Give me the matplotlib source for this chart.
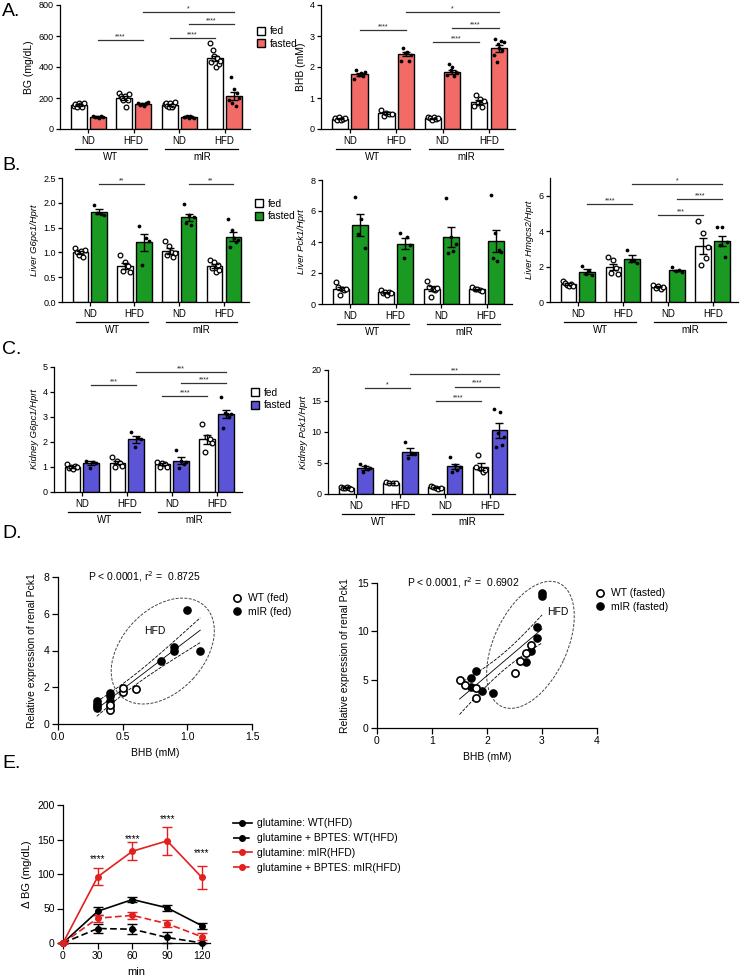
import numpy as np
import matplotlib
matplotlib.use("Agg")
import matplotlib.pyplot as plt
import matplotlib.transforms as mtransforms
from matplotlib.patches import Patch, Ellipse
from matplotlib.lines import Line2D

plt.rcParams['font.family'] = ['Liberation Sans', 'DejaVu Sans']
plt.rcParams['axes.linewidth'] = 0.9

# === Data ===
GROUPS = ["ND", "HFD", "ND", "HFD"]
GENOTYPES = ["WT", "mIR"]

# A. blood glucose (mg/dL)
bg_fed_mean = [155, 200, 155, 455]
bg_fed_sem = [5, 12, 5, 18]
bg_fed_pts = [[150, 160, 145, 165, 155, 140, 170],
              [235, 215, 200, 190, 210, 140, 185, 225],
              [160, 170, 150, 140, 165, 145, 155, 172],
              [555, 430, 510, 470, 400, 455, 420, 440]]
bg_fst_mean = [80, 160, 78, 215]
bg_fst_sem = [3, 5, 3, 25]
bg_fst_pts = [[85, 75, 80, 70, 85, 78],
              [165, 155, 160, 150, 170, 175],
              [80, 75, 82, 70, 85, 78, 72],
              [190, 335, 165, 255, 150, 230, 200]]
bg_sig = [(0, 1, 1, 1, 574, "****"), (2, -1, 3, -1, 587, "****"),
          (2, 1, 3, 1, 677, "****"), (1, 1, 3, 1, 755, "*")]

# A. BHB (mM)
bhb_fed_mean = [0.33, 0.52, 0.35, 0.87]
bhb_fed_sem = [0.02, 0.04, 0.02, 0.06]
bhb_fed_pts = [[0.35, 0.30, 0.38, 0.28, 0.32, 0.36],
               [0.62, 0.42, 0.52, 0.50, 0.48],
               [0.40, 0.35, 0.30, 0.38, 0.32, 0.36],
               [0.75, 1.10, 0.85, 0.98, 0.72, 0.90]]
bhb_fst_mean = [1.77, 2.42, 1.84, 2.60]
bhb_fst_sem = [0.05, 0.06, 0.06, 0.10]
bhb_fst_pts = [[1.60, 1.90, 1.75, 1.80, 1.70, 1.85],
               [2.20, 2.60, 2.45, 2.50, 2.20, 2.40],
               [1.75, 2.10, 1.90, 2.00, 1.70, 1.85, 1.80],
               [2.40, 2.90, 2.15, 2.75, 2.60, 2.85, 2.55, 2.80]]
bhb_sig = [(0, 1, 1, 1, 3.19, "****"), (2, -1, 3, -1, 2.80, "****"),
           (2, 1, 3, 1, 3.26, "****"), (1, 1, 3, 1, 3.77, "*")]

# B. liver G6pc1
lg6_fed_mean = [1.00, 0.73, 1.03, 0.72]
lg6_fed_sem = [0.03, 0.06, 0.06, 0.04]
lg6_fed_pts = [[1.08, 1.00, 0.95, 1.02, 0.90, 1.05],
               [0.95, 0.62, 0.80, 0.72, 0.60],
               [1.22, 0.95, 1.12, 1.00, 0.90, 0.98],
               [0.85, 0.68, 0.80, 0.60, 0.75, 0.65]]
lg6_fst_mean = [1.82, 1.20, 1.71, 1.32]
lg6_fst_sem = [0.05, 0.18, 0.07, 0.10]
lg6_fst_pts = [[1.95, 1.80, 1.78, 1.75],
               [1.54, 0.74, 1.30, 1.22],
               [1.97, 1.60, 1.75, 1.55, 1.72],
               [1.67, 1.10, 1.45, 1.30, 1.20, 1.25]]
lg6_sig = [(0, 1, 1, 1, 2.38, "**"), (2, 1, 3, 1, 2.38, "**")]

# B. liver Pck1
lpck_fed_mean = [1.00, 0.75, 1.00, 0.95]
lpck_fed_sem = [0.12, 0.05, 0.14, 0.04]
lpck_fed_pts = [[1.44, 1.10, 0.60, 1.00, 0.90, 0.95],
                [0.90, 0.70, 0.80, 0.60, 0.75, 0.70],
                [1.50, 1.10, 0.45, 1.00, 0.90, 1.05],
                [1.10, 1.00, 0.95, 0.90, 0.85]]
lpck_fst_mean = [5.10, 3.90, 4.35, 4.05]
lpck_fst_sem = [0.70, 0.35, 0.65, 0.70]
lpck_fst_pts = [[6.90, 4.50, 5.50, 3.60],
                [4.55, 3.00, 4.35, 3.80],
                [6.85, 3.30, 4.30, 3.40, 3.90],
                [7.05, 3.00, 4.60, 2.80, 3.50, 3.35]]
lpck_sig = []

# B. liver Hmgcs2
lhm_fed_mean = [1.00, 1.97, 0.85, 3.15]
lhm_fed_sem = [0.05, 0.18, 0.03, 0.45]
lhm_fed_pts = [[1.20, 1.05, 0.95, 0.88, 1.00, 0.90],
               [2.55, 1.65, 2.35, 1.90, 1.60],
               [0.95, 0.80, 0.88, 0.75, 0.85],
               [4.60, 2.10, 3.90, 2.50, 3.10]]
lhm_fst_mean = [1.72, 2.45, 1.78, 3.45]
lhm_fst_sem = [0.12, 0.18, 0.05, 0.30]
lhm_fst_pts = [[2.05, 1.60, 1.75, 1.50],
               [2.95, 2.30, 2.35, 2.20],
               [1.95, 1.75, 1.80, 1.70],
               [4.25, 3.20, 4.25, 2.55, 3.40]]
lhm_sig = [(0, 1, 1, 1, 5.52, "****"), (1, 1, 3, 1, 6.65, "*"),
           (2, 1, 3, 1, 5.80, "****"), (2, -1, 3, -1, 4.90, "***")]

# C. kidney G6pc1
kg6_fed_mean = [1.00, 1.17, 1.12, 2.10]
kg6_fed_sem = [0.03, 0.07, 0.04, 0.18]
kg6_fed_pts = [[1.10, 0.95, 1.00, 0.90, 1.05, 0.98],
               [1.40, 1.00, 1.25, 1.15, 1.05],
               [1.20, 1.00, 1.15, 1.10, 1.00],
               [2.70, 1.60, 2.20, 2.10, 1.95]]
kg6_fst_mean = [1.15, 2.10, 1.25, 3.12]
kg6_fst_sem = [0.07, 0.13, 0.13, 0.15]
kg6_fst_pts = [[1.25, 0.95, 1.20, 1.15],
               [2.40, 1.80, 2.15, 2.10],
               [1.68, 0.95, 1.25, 1.10, 1.20],
               [3.80, 2.55, 3.15, 3.10, 3.00, 3.10]]
kg6_sig = [(0, 1, 1, 1, 4.28, "***"), (1, 1, 3, 1, 4.80, "***"),
           (2, 1, 3, 1, 4.36, "****"), (2, -1, 3, -1, 3.84, "****")]

# C. kidney Pck1
kpck_fed_mean = [1.00, 1.80, 1.05, 4.40]
kpck_fed_sem = [0.05, 0.05, 0.08, 0.55]
kpck_fed_pts = [[1.20, 1.00, 0.90, 1.10, 0.95, 0.85],
                [1.90, 1.80, 1.70, 1.85],
                [1.30, 1.10, 1.00, 0.80, 0.90],
                [4.30, 6.30, 4.00, 3.60, 3.90]]
kpck_fst_mean = [4.20, 6.80, 4.50, 10.30]
kpck_fst_sem = [0.30, 0.55, 0.40, 1.20]
kpck_fst_pts = [[4.80, 3.50, 4.50, 4.00, 4.20],
                [8.40, 5.80, 6.60, 6.40],
                [5.90, 3.60, 4.60, 3.80, 4.40],
                [13.70, 7.60, 9.80, 13.30, 7.90, 9.20]]
kpck_sig = [(0, 1, 1, 1, 17.1, "*"), (1, 1, 3, 1, 19.3, "***"),
            (2, 1, 3, 1, 17.3, "****"), (2, -1, 3, -1, 15.0, "****")]

# D. BHB vs renal Pck1
fed_wt_bhb = [0.4, 0.4, 0.5, 0.5, 0.6]
fed_wt_pck = [0.76, 1.05, 1.72, 1.95, 1.88]
fed_mir_bhb = [0.3, 0.3, 0.3, 0.3, 0.4, 0.4, 0.4, 0.4, 0.8, 0.9, 0.9, 1.0, 1.1]
fed_mir_pck = [0.85, 1.00, 1.10, 1.25, 1.00, 1.25, 1.55, 1.70, 3.45, 4.00, 4.20, 6.20, 3.95]
fst_wt_bhb = [1.5, 1.6, 1.8, 1.8, 2.5, 2.6, 2.7, 2.8]
fst_wt_pck = [5.0, 4.5, 4.1, 3.1, 5.7, 6.9, 7.8, 8.55]
fst_mir_bhb = [1.7, 1.7, 1.8, 1.9, 2.1, 2.7, 2.8, 2.9, 2.9, 3.0, 3.0]
fst_mir_pck = [5.2, 4.2, 5.9, 3.85, 3.6, 6.85, 8.0, 9.35, 10.5, 13.7, 14.0]

# E. glutamine tolerance
minutes = [0, 30, 60, 90, 120]
glu_wt = [0, 46, 63, 51, 25]
glu_wt_err = [0, 6, 4, 4, 4]
bptes_wt = [0, 21, 20, 8, 0]
bptes_wt_err = [0, 6, 7, 8, 0]
glu_mir = [0, 96, 133, 148, 95]
glu_mir_err = [0, 12, 13, 20, 17]
bptes_mir = [0, 36, 40, 28, 9]
bptes_mir_err = [0, 5, 5, 5, 5]
e_stars_t = [30, 60, 90, 120]
e_stars_y = [114, 143, 173, 123]

RED_A = "#F26B66"
GREEN_B = "#1A9A22"
BLUE_C = "#5B54D6"
RED_E = "#E3201E"

W, H = 740, 977
fig = plt.figure(figsize=(W / 100, H / 100), dpi=100)


def px_axes(x0, y0, x1, y1):
    ax = fig.add_axes([x0 / W, 1 - y1 / H, (x1 - x0) / W, (y1 - y0) / H])
    ax.spines["top"].set_visible(False)
    ax.spines["right"].set_visible(False)
    return ax


def below(ax, dy_px):
    return ax.get_xaxis_transform() + mtransforms.ScaledTranslation(0, -dy_px / 100, fig.dpi_scale_trans)


OFF, BW = 0.21, 0.35


def draw_pts(ax, x, vals, filled):
    n = len(vals)
    dx = np.linspace(-0.11, 0.11, n)
    if filled:
        ax.plot(x + dx, vals, "o", ms=2.7, mfc="black", mec="black", mew=0, zorder=5, clip_on=False)
    else:
        ax.plot(x + dx, vals, "o", ms=3.4, mfc="white", mec="black", mew=0.9, zorder=5, clip_on=False)


def bar_panel(rect, fed_m, fed_e, fed_p, fst_m, fst_e, fst_p, color, ymax, yticks, ylabel, sig,
              fmt="{:g}", italic=True):
    ax = px_axes(*rect)
    pos = np.arange(4)
    ax.bar(pos - OFF, fed_m, BW, color="white", edgecolor="black", lw=1.0, zorder=2)
    ax.bar(pos + OFF, fst_m, BW, color=color, edgecolor="black", lw=1.0, zorder=2)
    for i in range(4):
        draw_pts(ax, pos[i] - OFF, fed_p[i], False)
        draw_pts(ax, pos[i] + OFF, fst_p[i], True)
    ax.errorbar(pos - OFF, fed_m, yerr=fed_e, fmt="none", ecolor="black", elinewidth=1, capsize=3, capthick=1, zorder=6)
    ax.errorbar(pos + OFF, fst_m, yerr=fst_e, fmt="none", ecolor="black", elinewidth=1, capsize=3, capthick=1, zorder=6)
    ax.set_xlim(-0.62, 3.56)
    ax.set_ylim(0, ymax)
    ax.set_yticks(yticks)
    ax.set_yticklabels([fmt.format(t) for t in yticks])
    ax.set_xticks(pos)
    ax.set_xticklabels(GROUPS)
    ax.tick_params(axis="y", labelsize=6.5, length=3, width=0.9, pad=1.5)
    ax.tick_params(axis="x", labelsize=7, length=3, width=0.9, pad=2)
    if italic:
        ax.set_ylabel(ylabel, fontsize=6.8, style="italic", labelpad=3)
    else:
        ax.set_ylabel(ylabel, fontsize=7.5, labelpad=3)
    for j, g in enumerate(GENOTYPES):
        x0, x1 = 2 * j - 0.3, 2 * j + 1.3
        ax.plot([x0, x1], [0, 0], color="black", lw=0.9, transform=below(ax, 20), clip_on=False)
        ax.text(2 * j + 0.5, 0, g, fontsize=7, ha="center", va="center", transform=below(ax, 28))
    for i1, s1, i2, s2, y, lab in sig:
        xa, xb = i1 + s1 * OFF, i2 + s2 * OFF
        ax.plot([xa, xb], [y, y], color="#333333", lw=0.9, clip_on=False, zorder=7)
        ax.text((xa + xb) / 2, y, lab, fontsize=5, ha="center", va="bottom", color="#222222")
    return ax


def bar_legend(x, y, color):
    handles = [Patch(facecolor="white", edgecolor="black", lw=1.0),
               Patch(facecolor=color, edgecolor="black", lw=1.0)]
    fig.legend(handles, ["fed", "fasted"], loc="center left", bbox_to_anchor=(x / W, 1 - y / H),
               frameon=False, fontsize=7.3, handlelength=0.8, handleheight=0.8, handletextpad=0.5,
               labelspacing=0.25, borderpad=0, borderaxespad=0)


# --- A ---
bar_panel((60, 5, 250, 129), bg_fed_mean, bg_fed_sem, bg_fed_pts, bg_fst_mean, bg_fst_sem, bg_fst_pts,
          RED_A, 800, [0, 200, 400, 600, 800], "BG (mg/dL)", bg_sig, italic=False)
bar_legend(257, 37.5, RED_A)
bar_panel((321, 5, 515, 129), bhb_fed_mean, bhb_fed_sem, bhb_fed_pts, bhb_fst_mean, bhb_fst_sem, bhb_fst_pts,
          RED_A, 4, [0, 1, 2, 3, 4], "BHB (mM)", bhb_sig, italic=False)

# --- B ---
bar_panel((62, 178, 249, 302), lg6_fed_mean, lg6_fed_sem, lg6_fed_pts, lg6_fst_mean, lg6_fst_sem, lg6_fst_pts,
          GREEN_B, 2.5, [0, 0.5, 1.0, 1.5, 2.0, 2.5], "Liver G6pc1/Hprt", lg6_sig, fmt="{:.1f}")
bar_legend(255, 210, GREEN_B)
bar_panel((322, 180, 512, 304), lpck_fed_mean, lpck_fed_sem, lpck_fed_pts, lpck_fst_mean, lpck_fst_sem, lpck_fst_pts,
          GREEN_B, 8, [0, 2, 4, 6, 8], "Liver Pck1/Hprt", lpck_sig)
bar_panel((550, 178, 738, 302), lhm_fed_mean, lhm_fed_sem, lhm_fed_pts, lhm_fst_mean, lhm_fst_sem, lhm_fst_pts,
          GREEN_B, 7, [0, 2, 4, 6], "Liver Hmgcs2/Hprt", lhm_sig)

# --- C ---
bar_panel((54, 367, 242, 492), kg6_fed_mean, kg6_fed_sem, kg6_fed_pts, kg6_fst_mean, kg6_fst_sem, kg6_fst_pts,
          BLUE_C, 5, [0, 1, 2, 3, 4, 5], "Kidney G6pc1/Hprt", kg6_sig)
bar_legend(251, 399, BLUE_C)
bar_panel((328, 370, 515, 494), kpck_fed_mean, kpck_fed_sem, kpck_fed_pts, kpck_fst_mean, kpck_fst_sem, kpck_fst_pts,
          BLUE_C, 20, [0, 5, 10, 15, 20], "Kidney Pck1/Hprt", kpck_sig)


# --- D ---
def fit_band(ax, xs, ys):
    xs, ys = np.asarray(xs), np.asarray(ys)
    b, a = np.polyfit(xs, ys, 1)
    n = len(xs)
    resid = ys - (a + b * xs)
    s = np.sqrt(np.sum(resid ** 2) / (n - 2))
    xx = np.linspace(xs.min(), xs.max(), 50)
    se = s * np.sqrt(1 / n + (xx - xs.mean()) ** 2 / np.sum((xs - xs.mean()) ** 2))
    yy = a + b * xx
    ax.plot(xx, yy, color="black", lw=0.6, zorder=2)
    ax.plot(xx, yy + 2.1 * se, color="black", lw=0.6, ls=(0, (4, 1.5)), zorder=2)
    ax.plot(xx, yy - 2.1 * se, color="black", lw=0.6, ls=(0, (4, 1.5)), zorder=2)


def scatter_panel(rect, wx, wy, mx, my, xlim, xticks, xfmt, ylim, yticks, stat, stat_x, ell,
                  legend_xy, labels, hfd_xy):
    ax = px_axes(*rect)
    fit_band(ax, wx + mx, wy + my)
    ax.plot(mx, my, "o", ms=5.2, mfc="black", mec="black", mew=1.0, zorder=3, clip_on=False)
    ax.plot(wx, wy, "o", ms=5.2, mfc="white", mec="black", mew=1.2, zorder=4, clip_on=False)
    ax.set_xlim(*xlim)
    ax.set_ylim(*ylim)
    ax.set_xticks(xticks)
    ax.set_xticklabels([xfmt.format(t) for t in xticks])
    ax.set_yticks(yticks)
    ax.tick_params(labelsize=7.5, length=4, width=0.9, pad=2)
    ax.set_xlabel("BHB (mM)", fontsize=7.5, labelpad=4)
    ax.set_ylabel("Relative expression of renal Pck1", fontsize=7.5, labelpad=5)
    ax.text(stat_x, 1.0, stat, transform=ax.transAxes, fontsize=7.5, ha="left", va="center")
    cx, cy, ew, eh, ang = ell
    tr = mtransforms.Affine2D() + mtransforms.ScaledTranslation(cx, cy, ax.transData)
    ax.add_patch(Ellipse((0, 0), ew, eh, angle=ang, transform=tr, fill=False, ls=(0, (3, 1.5)),
                         lw=0.7, edgecolor="#444444", clip_on=False))
    ax.text(hfd_xy[0], hfd_xy[1], "HFD", fontsize=7.5, ha="center", va="center")
    handles = [Line2D([], [], ls="none", marker="o", ms=5.2, mfc="white", mec="black", mew=1.2),
               Line2D([], [], ls="none", marker="o", ms=5.2, mfc="black", mec="black")]
    fig.legend(handles, labels, loc="center left", bbox_to_anchor=(legend_xy[0] / W, 1 - legend_xy[1] / H),
               frameon=False, fontsize=7.5, handlelength=0.8, handletextpad=0.6, labelspacing=0.3,
               borderpad=0, borderaxespad=0)
    return ax


scatter_panel((58, 577, 252, 724), fed_wt_bhb, fed_wt_pck, fed_mir_bhb, fed_mir_pck,
              (0, 1.5), [0, 0.5, 1.0, 1.5], "{:.1f}", (0, 8), [0, 2, 4, 6, 8],
              "P < 0.0001, r$^2$ =  0.8725", 0.155, (0.81, 3.97, 123, 82, 47), (233, 605),
              ["WT (fed)", "mIR (fed)"], (0.75, 5.05))
scatter_panel((377, 583, 597, 728), fst_wt_bhb, fst_wt_pck, fst_mir_bhb, fst_mir_pck,
              (0, 4), [0, 1, 2, 3, 4], "{:g}", (0, 15), [0, 5, 10, 15],
              "P < 0.0001, r$^2$ =  0.6902", 0.136, (2.79, 8.6, 136, 73, 65), (596, 600),
              ["WT (fasted)", "mIR (fasted)"], (3.29, 12.0))

# --- E ---
ax = px_axes(63, 805, 210, 943)
series = [(glu_wt, glu_wt_err, "black", "-", "glutamine: WT(HFD)"),
          (bptes_wt, bptes_wt_err, "black", (0, (4, 2)), "glutamine + BPTES: WT(HFD)"),
          (glu_mir, glu_mir_err, RED_E, "-", "glutamine: mIR(HFD)"),
          (bptes_mir, bptes_mir_err, RED_E, (0, (4, 2)), "glutamine + BPTES: mIR(HFD)")]
handles = []
for vals, err, col, ls, lab in series:
    ax.errorbar(minutes, vals, yerr=err, color=col, ls=ls, lw=1.2, marker="o", ms=4, capsize=3.5,
                elinewidth=1.0, capthick=1.0, clip_on=False, zorder=3)
    handles.append(Line2D([], [], color=col, ls=ls, lw=1.2, marker="o", ms=4))
for t, y in zip(e_stars_t, e_stars_y):
    ax.text(t, y, "****", fontsize=7, ha="center", va="bottom")
ax.set_xlim(0, 127)
ax.set_ylim(0, 200)
ax.set_xticks(minutes)
ax.set_yticks([0, 50, 100, 150, 200])
ax.tick_params(labelsize=7.5, length=4, width=0.9, pad=2)
ax.set_xlabel("min", fontsize=8, labelpad=4)
ax.set_ylabel("Δ BG (mg/dL)", fontsize=8, labelpad=4)
fig.legend(handles, [s[4] for s in series], loc="center left", bbox_to_anchor=(233 / W, 1 - 845.5 / H),
           frameon=False, fontsize=7.5, handlelength=1.8, handletextpad=0.5, labelspacing=0.45,
           borderpad=0, borderaxespad=0)

# --- panel letters ---
for lab, y in [("A.", 12), ("B.", 165), ("C.", 350), ("D.", 533), ("E.", 763)]:
    fig.text(2 / W, 1 - y / H, lab, fontsize=14, ha="left", va="center")

fig.savefig("out.png", dpi=100)
